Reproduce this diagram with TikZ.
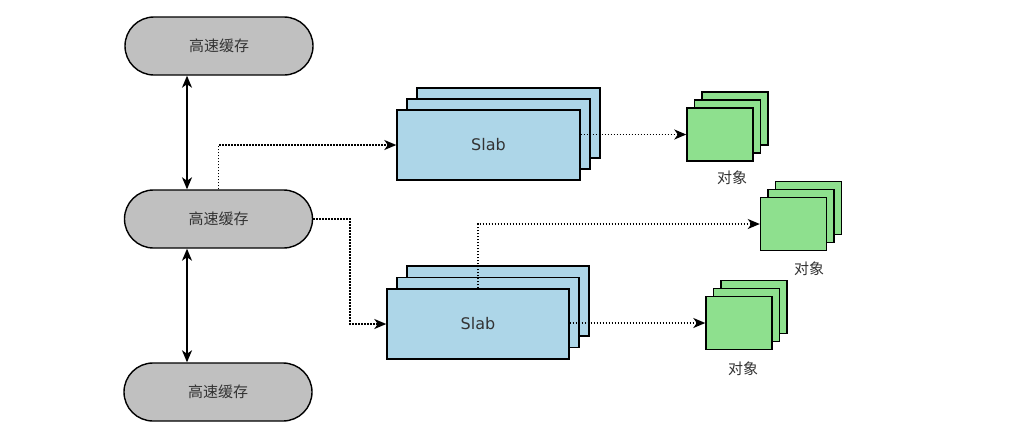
\documentclass[tikz,border=0pt]{standalone}
\usepackage{fontspec}
\newfontfamily\cjk{Noto Sans CJK SC}
\newfontfamily\sansf{DejaVu Sans}
\usetikzlibrary{arrows.meta,calc}
\definecolor{cachegray}{HTML}{C0C0C0}
\definecolor{slabblue}{HTML}{ADD6E8}
\definecolor{objgreen}{HTML}{8EE08E}
\definecolor{txtgray}{HTML}{333333}
\tikzset{
  cachebox/.style={draw=black, line width=1.4pt, fill=cachegray, rounded corners=29pt,
    minimum width=188pt, minimum height=58pt, inner sep=0pt,
    font=\cjk\fontsize{15pt}{17pt}\selectfont, text=txtgray},
  slabbox/.style={draw=black, line width=1.4pt, fill=slabblue,
    minimum width=183pt, minimum height=70pt, inner sep=0pt,
    font=\sansf\fontsize{16pt}{18pt}\selectfont, text=txtgray},
  objbox/.style={draw=black, line width=1.4pt, fill=objgreen,
    minimum width=66pt, minimum height=53pt, inner sep=0pt},
  objlabel/.style={font=\cjk\fontsize{15pt}{17pt}\selectfont, text=txtgray, inner sep=0pt},
  tip/.style={Stealth[length=12pt,width=10pt,inset=3.5pt]},
  solidarrow/.style={line width=1.5pt, {Stealth[length=12pt,width=10pt,inset=3.5pt]}-{Stealth[length=12pt,width=10pt,inset=3.5pt]}},
  dotarrow/.style={line width=1.6pt, dash pattern=on 1.5pt off 1.5pt, -{Stealth[length=12pt,width=10pt,inset=3.5pt]}},
}
\begin{document}
\begin{tikzpicture}[x=1pt,y=-1pt]
\useasboundingbox[fill=white] (0,0) rectangle (1018,445);
% caches
\node[cachebox] (c1) at (219,46) {高速缓存};
\node[cachebox] (c2) at (218.5,219) {高速缓存};
\node[cachebox] (c3) at (218,392) {高速缓存};
% top slab stack
\node[slabbox] (sAback) at (508.5,123) {};
\node[slabbox] (sAmid) at (498.5,134) {};
\node[slabbox] (sA) at (488.5,145) {Slab};
% bottom slab stack
\node[slabbox, minimum width=182pt] (sBback) at (498,301) {};
\node[slabbox, minimum width=182pt] (sBmid) at (488,312.5) {};
\node[slabbox, minimum width=182pt] (sB) at (478,324) {Slab};
% object stacks
\node[objbox] (oAback) at (735,118.5) {};
\node[objbox] (oAmid) at (727.5,126.5) {};
\node[objbox] (oA) at (720,134.5) {};
\node[objlabel] (lA) at (732,178) {对象};
\node[objbox] (oBback) at (808.5,208) {};
\node[objbox] (oBmid) at (801,216) {};
\node[objbox] (oB) at (793.5,224) {};
\node[objlabel] (lB) at (809,269) {对象};
\node[objbox] (oCback) at (754,307) {};
\node[objbox] (oCmid) at (746.5,315) {};
\node[objbox] (oC) at (739,323) {};
\node[objlabel] (lC) at (743,369) {对象};
% connectors
\draw[solidarrow] ([xshift=-32pt]c1.south) -- ([xshift=-31.5pt]c2.north);
\draw[solidarrow] ([xshift=-31.5pt]c2.south) -- ([xshift=-31pt]c3.north);
\draw[dotarrow] (c2.north) |- (sA.west);
\coordinate (m) at ($(c2.east)!0.5!(sB.west)$);
\draw[dotarrow] (c2.east) -| (m) |- (sB.west);
\draw[dotarrow] (sA.east |- oA.west) -- (oA.west);
\draw[dotarrow] (sB.north) |- (oB.west);
\draw[dotarrow] (sB.east |- oC.west) -- (oC.west);
\end{tikzpicture}
\end{document}
